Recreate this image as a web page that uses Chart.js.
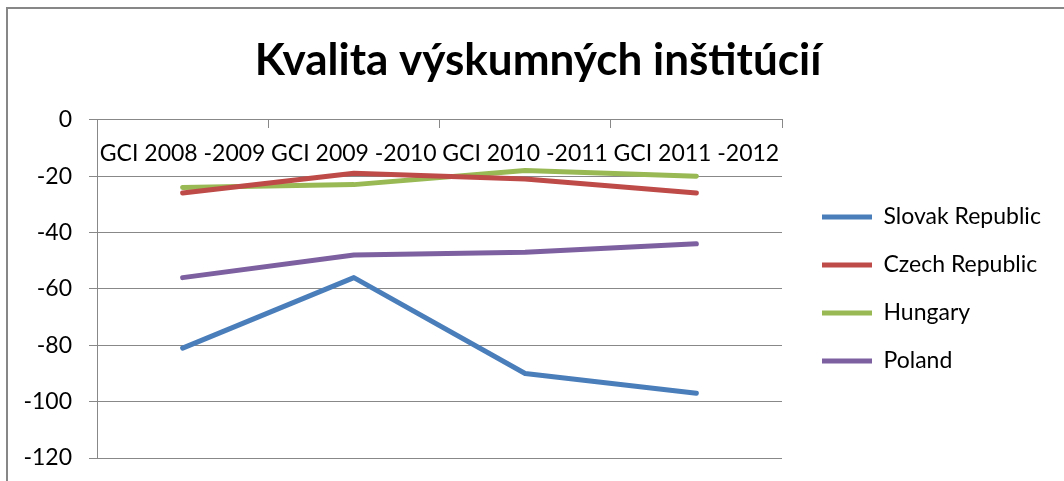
<!DOCTYPE html>
<html>
<head>
<meta charset="utf-8">
<script src="https://cdn.jsdelivr.net/npm/chart.js@4/dist/chart.umd.min.js"></script>
<style>
    html, body { margin: 0; padding: 0; background: #fff; }
    #wrap { position: relative; width: 1064px; height: 481px; overflow: hidden; }
    #frame {
        position: absolute; left: 6px; top: 7px; width: 1200px; height: 600px;
        border-left: 2px solid #878787; border-top: 2px solid #878787;
        pointer-events: none;
    }
</style>
</head>
<body>
<div id="wrap">
    <canvas id="chart" width="1064" height="481"></canvas>
    <div id="frame"></div>
</div>
<script>
// Kvalita výskumných inštitúcií - dáta
const categories = ['GCI 2008 -2009', 'GCI 2009 -2010', 'GCI 2010 -2011', 'GCI 2011 -2012'];
const seriesNames = ['Slovak Republic', 'Czech Republic', 'Hungary', 'Poland'];
const slovak = [-81, -56, -90, -97];
const czech = [-26, -19, -21, -26];
const hungary = [-24, -23, -18, -20];
const poland = [-56, -48, -47, -44];
const yTicks = { min: -120, max: 0, step: 20 };

const colors = ['#4A7EBB', '#BE4B48', '#98B954', '#7D60A0'];
const gridColor = '#888888';
const legendWidth = 267;

Chart.defaults.font.family = 'Lato, "Open Sans", sans-serif';
Chart.defaults.color = '#000';

function makeSet(label, data, color) {
    return {
        label: label,
        data: data,
        borderColor: color,
        backgroundColor: color,
        borderWidth: 5,
        borderCapStyle: 'round',
        borderJoinStyle: 'round',
        pointRadius: 0,
        tension: 0,
        fill: false
    };
}

// legenda má pevnú šírku (inak ju layout oreže)
const legendWidthPlugin = {
    id: 'legendWidth',
    beforeUpdate: function(chart) {
        const legend = chart.legend;
        if (legend && !legend._fixedFit) {
            const fit = legend.fit;
            legend.fit = function() {
                fit.call(this);
                this.width = legendWidth;
            };
            legend._fixedFit = true;
        }
    }
};

new Chart(document.getElementById('chart'), {
    type: 'line',
    data: {
        labels: categories,
        datasets: [
            makeSet(seriesNames[0], slovak, colors[0]),
            makeSet(seriesNames[1], czech, colors[1]),
            makeSet(seriesNames[2], hungary, colors[2]),
            makeSet(seriesNames[3], poland, colors[3])
        ]
    },
    plugins: [legendWidthPlugin],
    options: {
        responsive: false,
        animation: false,
        layout: {
            padding: { left: 12, right: 0, top: 0, bottom: 23 }
        },
        plugins: {
            title: {
                display: true,
                text: 'Kvalita výskumných inštitúcií',
                font: { size: 44, weight: 'bold' },
                padding: { top: 34, bottom: 33 }
            },
            legend: {
                position: 'right',
                fullSize: false,
                labels: {
                    usePointStyle: true,
                    pointStyle: 'line',
                    pointStyleWidth: 50,
                    padding: 25,
                    font: { size: 23 }
                }
            },
            tooltip: { enabled: false }
        },
        scales: {
            x: {
                type: 'category',
                position: { y: 0 },
                offset: true,
                grid: {
                    offset: true,
                    drawOnChartArea: false,
                    drawTicks: true,
                    tickLength: 8,
                    color: gridColor
                },
                border: { display: true, color: gridColor, width: 1 },
                ticks: {
                    autoSkip: false,
                    maxRotation: 0,
                    padding: 12,
                    font: { size: 23 }
                }
            },
            y: {
                min: yTicks.min,
                max: yTicks.max,
                grid: {
                    color: gridColor,
                    tickLength: 8
                },
                border: { display: true, color: gridColor, width: 1 },
                ticks: {
                    stepSize: yTicks.step,
                    padding: 17,
                    font: { size: 23 }
                },
                afterFit: function(scale) {
                    scale.width = 85;
                    scale.paddingTop = 14;
                    scale.paddingBottom = 14;
                }
            },
            // prázdny priestor medzi grafom a legendou
            gap: {
                type: 'linear',
                position: 'right',
                grid: { display: false },
                border: { display: false },
                ticks: { display: false },
                afterFit: function(scale) { scale.width = 15; }
            }
        }
    }
});
</script>
</body>
</html>
